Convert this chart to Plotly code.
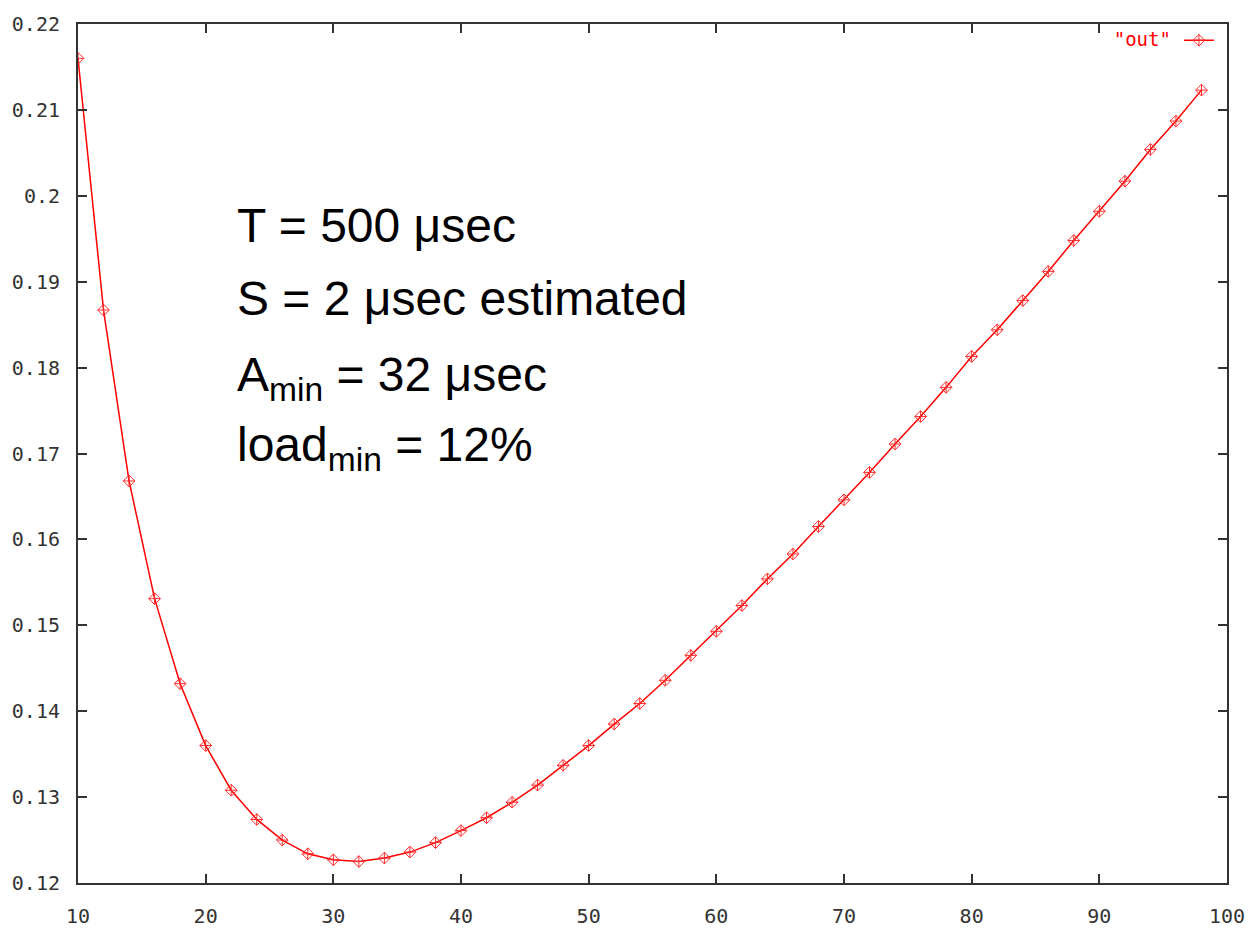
import plotly.graph_objects as go

# Data
x_vals = [10, 12, 14, 16, 18, 20, 22, 24, 26, 28, 30, 32, 34, 36, 38, 40, 42, 44,
          46, 48, 50, 52, 54, 56, 58, 60, 62, 64, 66, 68, 70, 72, 74, 76, 78, 80,
          82, 84, 86, 88, 90, 92, 94, 96, 98]
load = [0.2160, 0.1867, 0.1668, 0.1531, 0.1432, 0.1360, 0.1308, 0.1274, 0.1250,
        0.1234, 0.1227, 0.1225, 0.1229, 0.1236, 0.1247, 0.1261, 0.1276, 0.1294,
        0.1314, 0.1337, 0.1360, 0.1385, 0.1409, 0.1436, 0.1465, 0.1493, 0.1523,
        0.1554, 0.1583, 0.1615, 0.1646, 0.1678, 0.1711, 0.1743, 0.1777, 0.1813,
        0.1844, 0.1878, 0.1912, 0.1948, 0.1982, 0.2017, 0.2054, 0.2087, 0.2123]

x_ticks = [10, 20, 30, 40, 50, 60, 70, 80, 90, 100]
x_labels = ["10", "20", "30", "40", "50", "60", "70", "80", "90", "100"]
y_ticks = [0.12, 0.13, 0.14, 0.15, 0.16, 0.17, 0.18, 0.19, 0.20, 0.21, 0.22]
y_labels = ["0.12", "0.13", "0.14", "0.15", "0.16", "0.17", "0.18", "0.19",
            "0.2", "0.21", "0.22"]

series_name = '"out"'
note_lines = ["T = 500 μsec", "S = 2 μsec estimated",
              "A<sub>min</sub> = 32 μsec", "load<sub>min</sub> = 12%"]
note_y = [0.766, 0.681, 0.588, 0.506]

tick_font = dict(family="DejaVu Sans Mono", size=20, color="#333333")
axis_common = dict(
    ticks="inside", ticklen=9, tickwidth=1.5, tickcolor="#333333",
    showline=True, linecolor="#333333", linewidth=2, mirror="ticks",
    showgrid=False, zeroline=False, tickfont=tick_font,
)

fig = go.Figure()
fig.add_trace(go.Scatter(
    x=x_vals, y=load, mode="lines+markers", name="",
    line=dict(color="#ff0000", width=1.5),
    marker=dict(symbol="diamond-cross-open", size=9, color="#ff2a2a",
                line=dict(width=1, color="#ff2a2a")),
))

fig.update_layout(
    width=1257, height=940,
    margin=dict(l=76, r=20, t=14, b=37),
    paper_bgcolor="white", plot_bgcolor="white",
    xaxis=dict(range=[10, 100], tickvals=x_ticks, ticktext=x_labels,
               ticklabelstandoff=14, **axis_common),
    yaxis=dict(range=[0.12, 0.22], tickvals=y_ticks, ticktext=y_labels,
               ticklabelstandoff=12, **axis_common),
    showlegend=True,
    legend=dict(x=0.998, xanchor="right", y=1.003, yanchor="top",
                bgcolor="rgba(0,0,0,0)",
                title=dict(text=series_name, side="left",
                           font=dict(family="DejaVu Sans Mono", size=19, color="#ff0000")),
                font=dict(family="DejaVu Sans Mono", size=19, color="#ff0000")),
)

for txt, yy in zip(note_lines, note_y):
    fig.add_annotation(
        text=txt, xref="paper", yref="paper", x=0.137, y=yy,
        xanchor="left", yanchor="middle", showarrow=False,
        font=dict(family="Liberation Sans, Arial", size=48, color="black"),
    )

fig.write_html("out.html")
